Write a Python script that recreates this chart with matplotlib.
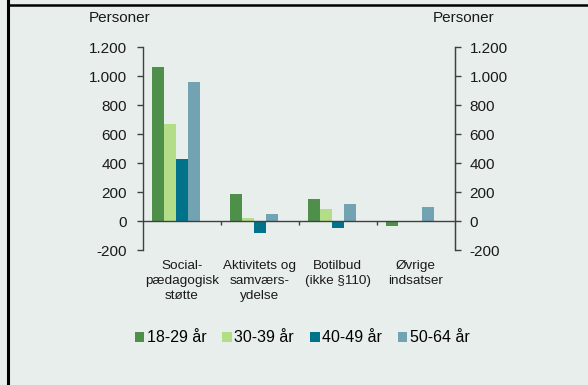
import numpy as np
import matplotlib
matplotlib.use("Agg")
import matplotlib.pyplot as plt
from matplotlib.ticker import FuncFormatter
from matplotlib.lines import Line2D

plt.rcParams['font.family'] = ['Liberation Sans', 'DejaVu Sans']

# data
kategorier = ['Social-\npædagogisk\nstøtte', 'Aktivitets og\nsamværs-\nydelse',
              'Botilbud\n(ikke §110)', 'Øvrige\nindsatser']
aldersgrupper = ['18-29 år', '30-39 år', '40-49 år', '50-64 år']
aar_18_29 = [1060, 185, 150, -35]
aar_30_39 = [670, 20, 80, 3]
aar_40_49 = [430, -80, -50, -3]
aar_50_64 = [960, 50, 115, 100]
serier = [aar_18_29, aar_30_39, aar_40_49, aar_50_64]
farver = ['#4e8f4a', '#b3de87', '#00738a', '#72a3b3']

bg = '#e8eeec'
akse = '#404040'

fig = plt.figure(figsize=(5.88, 3.85), dpi=100, facecolor=bg)
ax = fig.add_axes([0.2427, 0.3506, 0.531, 0.5273])
ax.set_facecolor(bg)

bredde = 0.153
x0 = np.arange(len(kategorier)) + 0.12
handles = []
for i, (vals, farve) in enumerate(zip(serier, farver)):
    b = ax.bar(x0 + i * bredde, vals, width=bredde, align='edge',
               color=farve, label=aldersgrupper[i], zorder=2)
    handles.append(b)

ax.set_xlim(0, 4)
ax.set_ylim(-200, 1200)
ax.set_yticks(range(-200, 1201, 200))
fmt = FuncFormatter(lambda v, p: '{:,.0f}'.format(v).replace(',', '.'))
ax.yaxis.set_major_formatter(fmt)

# x-axis sits on zero with ticks between categories
ax.spines['bottom'].set_position(('data', 0))
ax.spines['top'].set_visible(False)
for s in ['left', 'right', 'bottom']:
    ax.spines[s].set_color(akse)
    ax.spines[s].set_linewidth(1.0)
ax.set_xticks([1, 2, 3])
ax.set_xticklabels([])
ax.tick_params(axis='x', direction='out', length=3, width=1, color=akse)
ax.tick_params(axis='y', direction='out', length=4.5, width=1, color=akse,
               labelsize=11, pad=7, labelcolor='#1a1a1a')

ax2 = ax.twinx()
ax2.set_ylim(ax.get_ylim())
ax2.set_yticks(range(-200, 1201, 200))
ax2.yaxis.set_major_formatter(fmt)
ax2.tick_params(axis='y', direction='out', length=4.5, width=1, color=akse,
                labelsize=11, pad=6, labelcolor='#1a1a1a')
for s in ['top', 'bottom', 'left']:
    ax2.spines[s].set_visible(False)
ax2.spines['right'].set_color(akse)

# category labels under the plot area
for i, k in enumerate(kategorier):
    ax.text(i + 0.5, -272, k, ha='center', va='top', fontsize=9.7,
            linespacing=1.3, color='#1a1a1a', clip_on=False)

fig.text(89 / 588, 1 - 18 / 385, 'Personer', ha='left', va='center',
         fontsize=11, color='#1a1a1a')
fig.text(494 / 588, 1 - 18 / 385, 'Personer', ha='right', va='center',
         fontsize=11, color='#1a1a1a')

leg = fig.legend(handles=handles, labels=aldersgrupper, loc='center',
                 bbox_to_anchor=(0.514, 1 - 338 / 385), ncol=4, frameon=False,
                 fontsize=11.5, handlelength=0.6, handleheight=0.6,
                 handletextpad=0.15, columnspacing=1.0)

# frame lines
fig.add_artist(Line2D([8 / 588, 8 / 588], [0, 1], color='black', lw=2.2))
fig.add_artist(Line2D([8 / 588, 1], [1 - 4.8 / 385, 1 - 4.8 / 385],
                      color='black', lw=1.8))

fig.savefig('out.png', dpi=100, facecolor=bg)
